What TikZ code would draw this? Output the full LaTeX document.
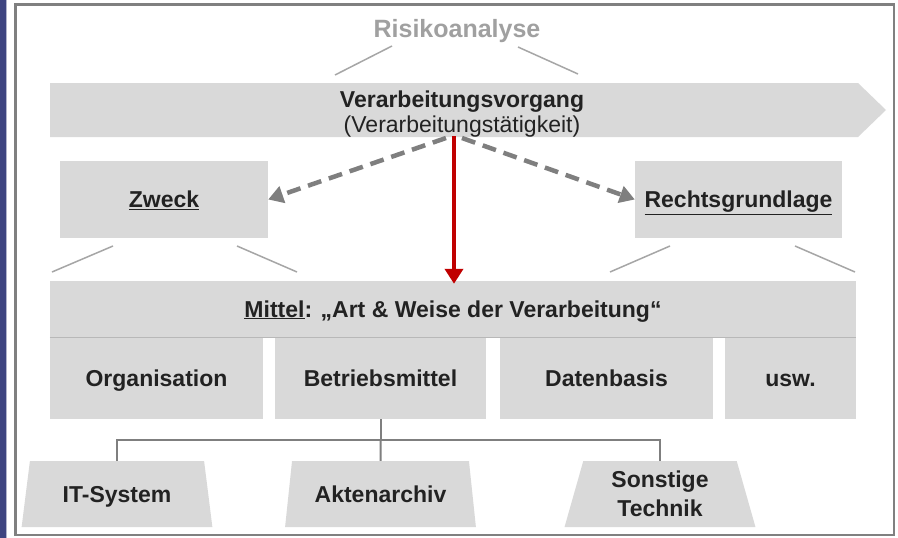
\documentclass[tikz,border=0pt]{standalone}
\usepackage{fontspec}
\setmainfont{Liberation Sans}
\usetikzlibrary{arrows.meta,shapes.geometric}
\definecolor{boxgray}{HTML}{D9D9D9}
\definecolor{txt}{HTML}{222222}
\definecolor{lightline}{HTML}{A6A6A6}
\definecolor{treeline}{HTML}{7F7F7F}
\definecolor{dashgray}{HTML}{7F7F7F}
\definecolor{darkred}{HTML}{C00000}
\definecolor{riskgray}{HTML}{A0A0A0}
\definecolor{frame}{HTML}{808080}
\definecolor{navy}{HTML}{3E4480}
\tikzset{
  boxnode/.style={rectangle, fill=boxgray, draw=none, inner sep=0pt, text=txt,
    font=\fontsize{23}{27}\selectfont\bfseries, align=center,
    text height=18pt, text depth=2pt},
  trap/.style={trapezium, trapezium stretches=true, trapezium left angle=75.5,
    trapezium right angle=75.5, minimum width=191pt, minimum height=66pt,
    fill=boxgray, draw=none, inner sep=0pt, text=txt,
    font=\fontsize{23}{29}\selectfont\bfseries, align=center},
  oneline/.style={text height=18pt, text depth=2pt},
  leader/.style={draw=lightline, line width=1.5pt},
  treeconn/.style={draw=treeline, line width=2pt},
  dasharrow/.style={draw=dashgray, line width=4.5pt, dash pattern=on 14pt off 8pt,
    -{Triangle[length=15pt,width=17pt]}},
  redarrow/.style={draw=darkred, line width=4pt, -{Triangle[length=15pt,width=18pt]}}
}
\begin{document}
\begin{tikzpicture}[x=1pt,y=-1pt]
\useasboundingbox (0,0) rectangle (898,538);
\fill[white] (0,0) rectangle (898,538);
% left strip and frame
\fill[navy] (0,0) rectangle (5.5,538);
\fill[navy!40] (5.5,0) rectangle (7,538);
\draw[frame, line width=2.5pt] (15.5,4.5) rectangle (894,535);

% title
\node[text=riskgray, font=\fontsize{25}{29}\selectfont\bfseries] (risk) at (457,31) {Risikoanalyse};

% banner
\fill[boxgray] (50,83) -- (858,83) -- (886,110) -- (858,137) -- (50,137) -- cycle;
\node[text=txt, align=center, inner sep=0pt, font=\fontsize{23}{25.5}\selectfont] (proc) at (462,114)
  {\textbf{Verarbeitungsvorgang}\\(Verarbeitungstätigkeit)};
\coordinate (rl1) at (335,75);
\coordinate (rl2) at (392,46);
\coordinate (rr1) at (518,47);
\coordinate (rr2) at (578,74);
\draw[leader] (rl1) -- (rl2);
\draw[leader] (rr1) -- (rr2);

% Zweck / Rechtsgrundlage
\node[boxnode, minimum width=208pt, minimum height=77pt] (zweck) at (164,199.5) {\underline{Zweck}};
\node[boxnode, minimum width=207pt, minimum height=77pt] (recht) at (738.5,199.5) {\underline{Rechtsgrundlage}};

% Mittel
\node[boxnode, minimum width=806pt, minimum height=56pt] (mittel) at (453,309)
  {\underline{Mittel}: „Art \& Weise der Verarbeitung“};
\draw[draw=boxgray!85!black, line width=1pt] (mittel.south west) -- (mittel.south east);
\node[boxnode, minimum width=213pt, minimum height=81pt] (org) at (156.5,378.5) {Organisation};
\node[boxnode, minimum width=211pt, minimum height=81pt] (bm) at (380.5,378.5) {Betriebsmittel};
\node[boxnode, minimum width=213pt, minimum height=81pt] (db) at (606.5,378.5) {Datenbasis};
\node[boxnode, minimum width=131pt, minimum height=81pt] (usw) at (790.5,378.5) {usw.};

% leader lines below Zweck / Rechtsgrundlage
\coordinate (zl1) at (113,246); \coordinate (zl2) at (52,272);
\coordinate (zr1) at (237,246); \coordinate (zr2) at (297,272);
\coordinate (rgl1) at (670,246); \coordinate (rgl2) at (610,272);
\coordinate (rgr1) at (795,246); \coordinate (rgr2) at (855,272);
\draw[leader] (zl1) -- (zl2);
\draw[leader] (zr1) -- (zr2);
\draw[leader] (rgl1) -- (rgl2);
\draw[leader] (rgr1) -- (rgr2);

% arrows
\coordinate (srcL) at (446,138);
\coordinate (srcR) at (462,138);
\coordinate (srcM) at (454,136);
\draw[dasharrow] (srcL) -- (zweck.east);
\draw[dasharrow] (srcR) -- (recht.west);
\draw[redarrow] (srcM) -- ([yshift=-3pt]srcM |- mittel.north);

% trapezoids
\node[trap, oneline] (it) at (117,494) {IT-System};
\node[trap, oneline] (akte) at (380.5,494) {Aktenarchiv};
\node[trap] (st) at (660,494) {Sonstige\\Technik};
\draw[treeconn] (bm.south) -- ++(0,21) coordinate (j);
\draw[treeconn] (it.north) |- (j) -| (st.north);
\draw[treeconn] (j) -- (akte.north);
\end{tikzpicture}
\end{document}
